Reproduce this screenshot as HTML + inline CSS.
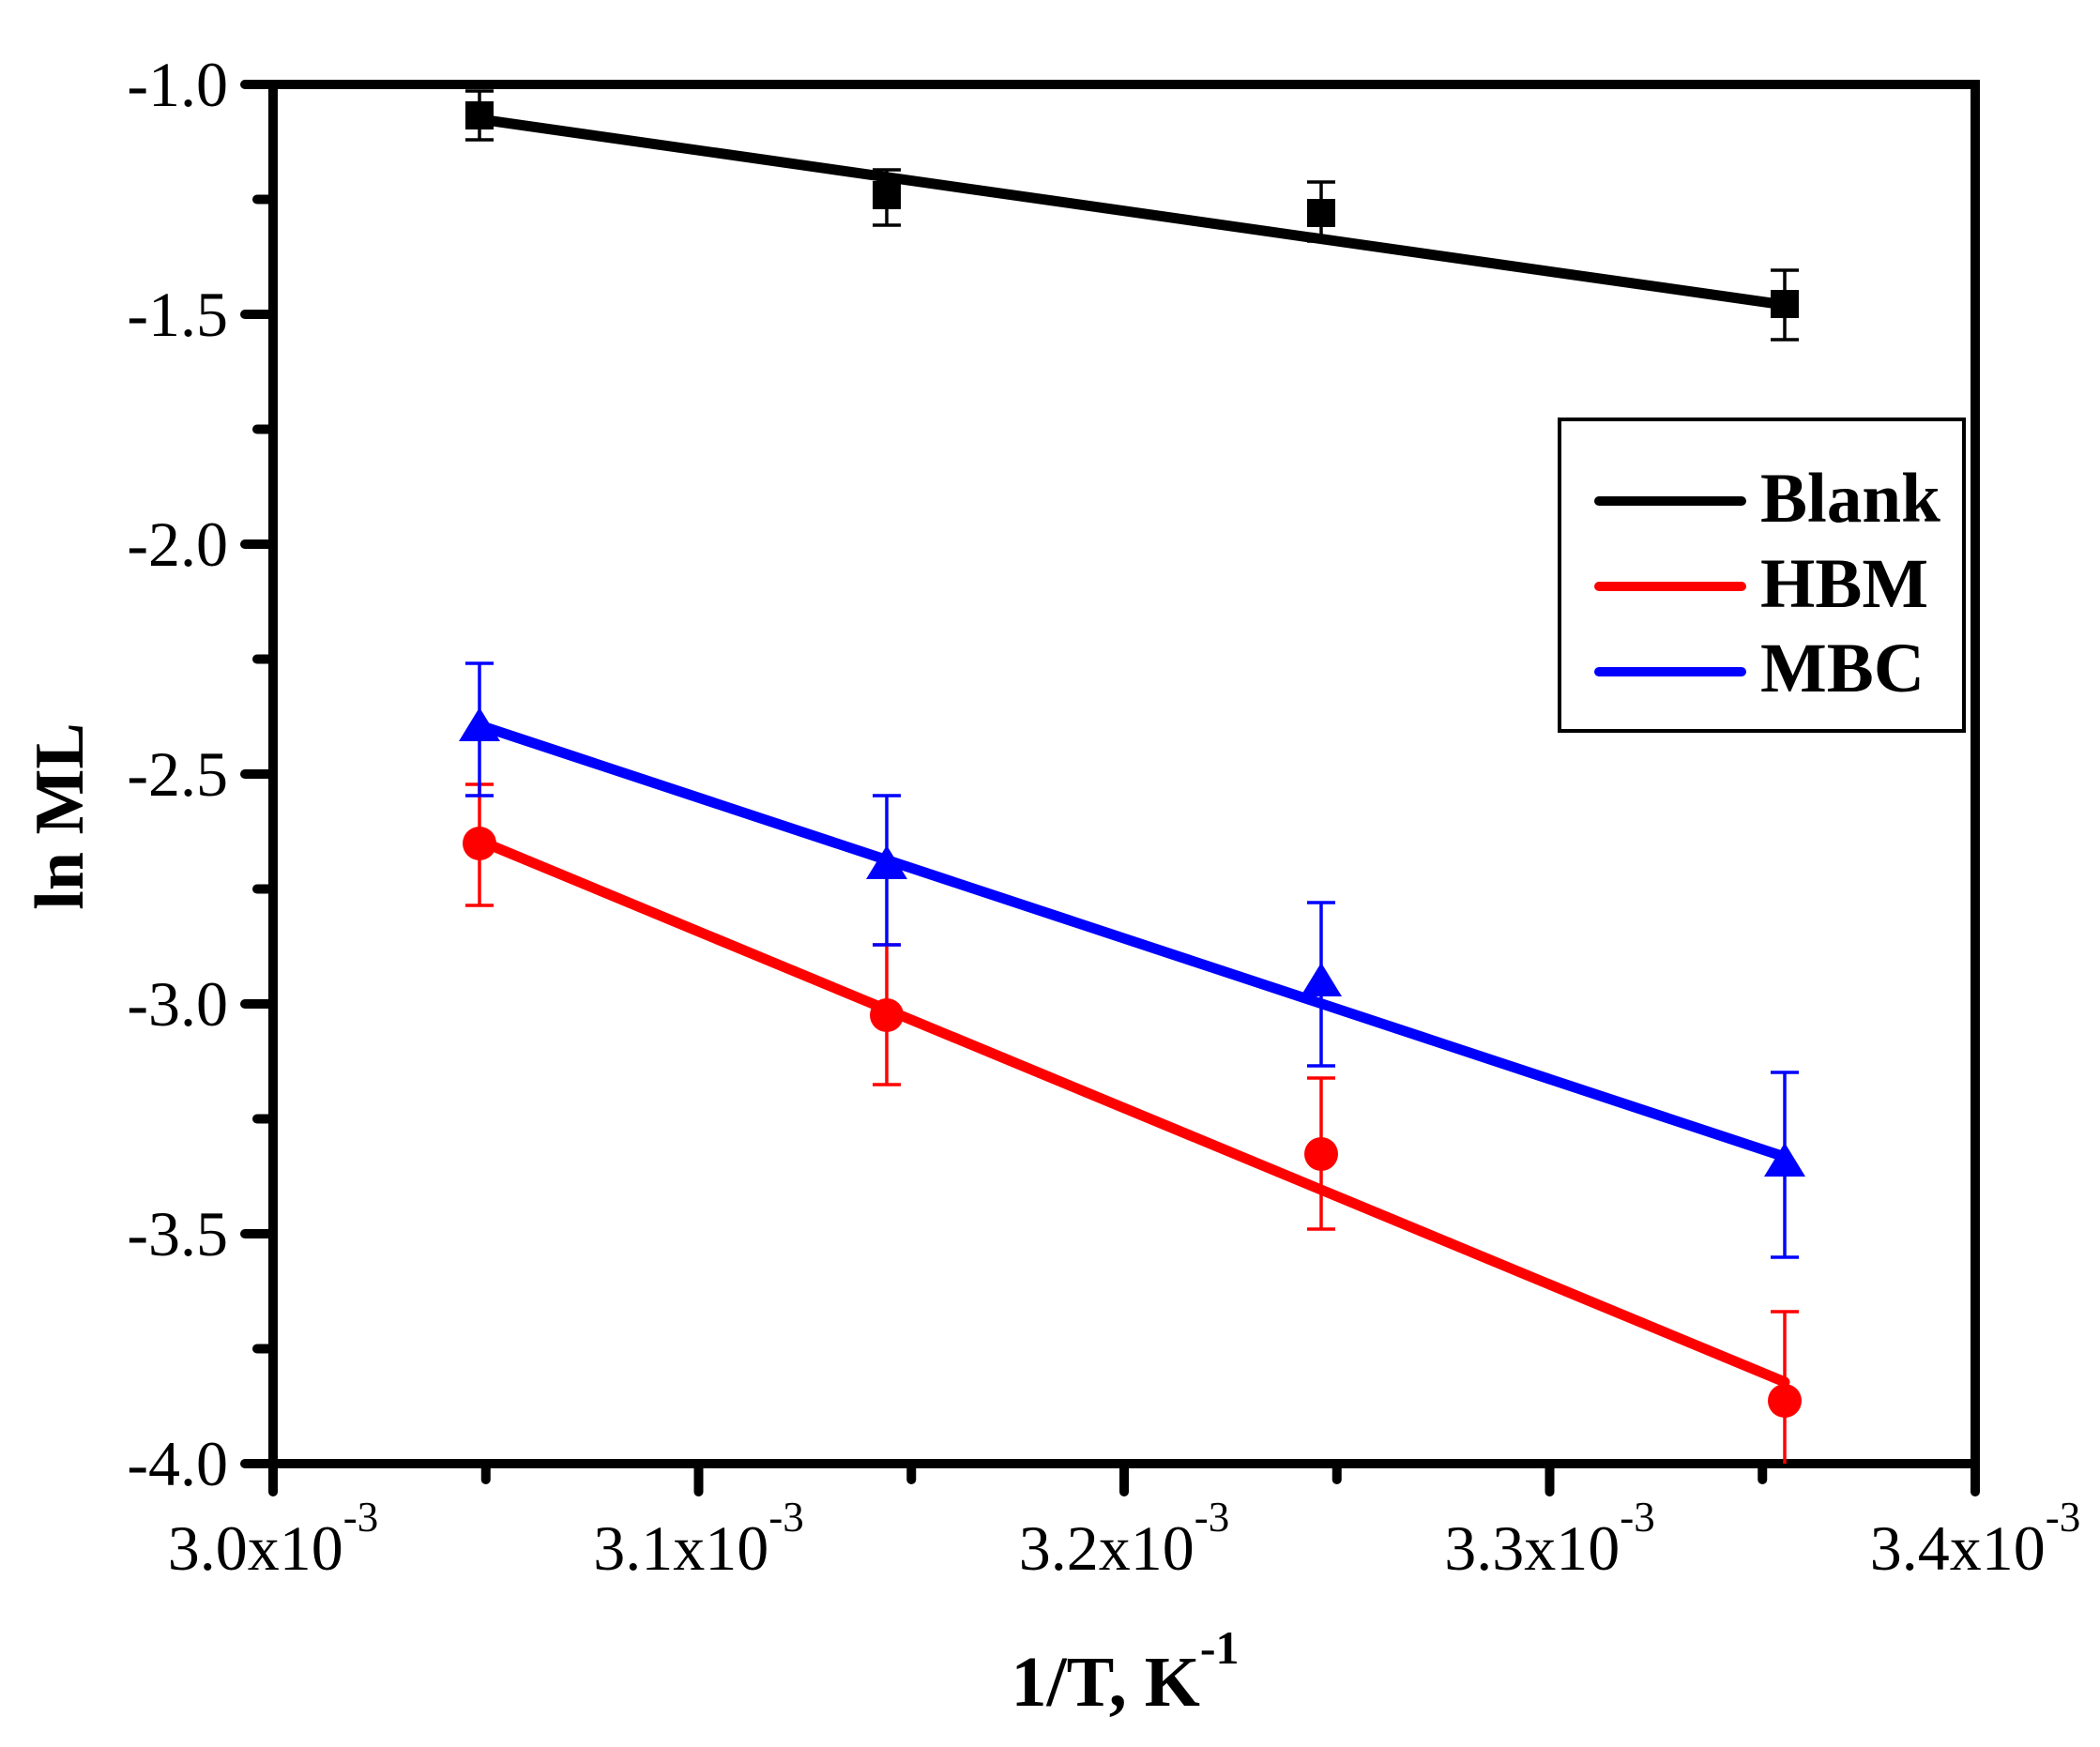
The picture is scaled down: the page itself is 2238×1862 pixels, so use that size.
<!DOCTYPE html>
<html><head><meta charset="utf-8"><style>html,body{margin:0;padding:0;background:#fff}svg{display:block}</style></head>
<body>
<svg width="2238" height="1862" viewBox="0 0 2238 1862" xmlns="http://www.w3.org/2000/svg" font-family="Liberation Serif, serif">
<rect width="2238" height="1862" fill="#fff"/>
<!-- y ticks -->
<g stroke="#000" stroke-width="10" stroke-linecap="round">
<line x1="261" y1="90" x2="291" y2="90"/>
<line x1="261" y1="335" x2="291" y2="335"/>
<line x1="261" y1="580" x2="291" y2="580"/>
<line x1="261" y1="825" x2="291" y2="825"/>
<line x1="261" y1="1070" x2="291" y2="1070"/>
<line x1="261" y1="1315" x2="291" y2="1315"/>
<line x1="261" y1="1560" x2="291" y2="1560"/>
<line x1="274" y1="212.5" x2="291" y2="212.5"/>
<line x1="274" y1="457.5" x2="291" y2="457.5"/>
<line x1="274" y1="702.5" x2="291" y2="702.5"/>
<line x1="274" y1="947.5" x2="291" y2="947.5"/>
<line x1="274" y1="1192.5" x2="291" y2="1192.5"/>
<line x1="274" y1="1437.5" x2="291" y2="1437.5"/>
<!-- x ticks -->
<line x1="291" y1="1560" x2="291" y2="1590"/>
<line x1="744.5" y1="1560" x2="744.5" y2="1590"/>
<line x1="1198" y1="1560" x2="1198" y2="1590"/>
<line x1="1651.5" y1="1560" x2="1651.5" y2="1590"/>
<line x1="2105" y1="1560" x2="2105" y2="1590"/>
<line x1="517.75" y1="1560" x2="517.75" y2="1577"/>
<line x1="971.25" y1="1560" x2="971.25" y2="1577"/>
<line x1="1424.75" y1="1560" x2="1424.75" y2="1577"/>
<line x1="1878.25" y1="1560" x2="1878.25" y2="1577"/>
</g>
<rect x="291" y="90" width="1814" height="1470" fill="none" stroke="#000" stroke-width="10"/>
<!-- y labels -->
<g font-size="68" text-anchor="end" fill="#000">
<text x="243" y="113">-1.0</text>
<text x="243" y="358">-1.5</text>
<text x="243" y="603">-2.0</text>
<text x="243" y="848">-2.5</text>
<text x="243" y="1093">-3.0</text>
<text x="243" y="1338">-3.5</text>
<text x="243" y="1583">-4.0</text>
</g>
<!-- x labels -->
<g font-size="68" text-anchor="middle" fill="#000">
<text x="291" y="1673">3.0x10<tspan font-size="45" dy="-41">-3</tspan></text>
<text x="744.5" y="1673">3.1x10<tspan font-size="45" dy="-41">-3</tspan></text>
<text x="1198" y="1673">3.2x10<tspan font-size="45" dy="-41">-3</tspan></text>
<text x="1651.5" y="1673">3.3x10<tspan font-size="45" dy="-41">-3</tspan></text>
<text x="2105" y="1673">3.4x10<tspan font-size="45" dy="-41">-3</tspan></text>
</g>
<text x="1199" y="1818" font-size="76" font-weight="bold" text-anchor="middle">1/T, K<tspan font-size="50" dy="-45">-1</tspan></text>
<text transform="translate(88,870) rotate(-90)" font-size="74" font-weight="bold" text-anchor="middle">ln ML</text>
<!-- fit lines -->
<g stroke-width="11" stroke-linecap="round">
<line x1="511" y1="127" x2="1902" y2="325" stroke="#000"/>
<line x1="511" y1="896" x2="1902" y2="1473" stroke="#f00"/>
<line x1="511" y1="773" x2="1902" y2="1233" stroke="#00f"/>
</g>
<!-- error bars -->
<g stroke="#000" stroke-width="3.5">
<path d="M511 97V149M496 97H526M496 149H526"/>
<path d="M945 181V240M930 181H960M930 240H960"/>
<path d="M1408 194V257M1393 194H1423M1393 257H1423"/>
<path d="M1902 288V362M1887 288H1917M1887 362H1917"/>
</g>
<g stroke="#f00" stroke-width="3.5">
<path d="M511 836V965M496 836H526M496 965H526"/>
<path d="M945 1007V1156M930 1007H960M930 1156H960"/>
<path d="M1408 1149V1310M1393 1149H1423M1393 1310H1423"/>
<path d="M1902 1398V1560M1887 1398H1917"/>
</g>
<g stroke="#00f" stroke-width="3.5">
<path d="M511 707V848M496 707H526M496 848H526"/>
<path d="M945 848V1007M930 848H960M930 1007H960"/>
<path d="M1408 962V1136M1393 962H1423M1393 1136H1423"/>
<path d="M1902 1143V1340M1887 1143H1917M1887 1340H1917"/>
</g>
<!-- markers -->
<g fill="#000">
<rect x="496" y="108" width="30" height="30"/>
<rect x="930" y="193" width="30" height="30"/>
<rect x="1393" y="212" width="30" height="30"/>
<rect x="1887" y="309" width="30" height="30"/>
</g>
<g fill="#f00">
<circle cx="511" cy="899" r="18"/>
<circle cx="945" cy="1082" r="18"/>
<circle cx="1408" cy="1230" r="18"/>
<circle cx="1902" cy="1493" r="18"/>
</g>
<g fill="#00f">
<polygon points="511,754 489,790 533,790"/>
<polygon points="945,901 923,937 967,937"/>
<polygon points="1408,1026 1386,1062 1430,1062"/>
<polygon points="1902,1218 1880,1254 1924,1254"/>
</g>
<!-- legend -->
<rect x="1662" y="447" width="431" height="332" fill="#fff" stroke="#000" stroke-width="4"/>
<g stroke-width="10" stroke-linecap="round">
<line x1="1704" y1="534" x2="1856" y2="534" stroke="#000"/>
<line x1="1704" y1="625" x2="1856" y2="625" stroke="#f00"/>
<line x1="1704" y1="716" x2="1856" y2="716" stroke="#00f"/>
</g>
<g font-size="75" font-weight="bold" fill="#000">
<text x="1876" y="556">Blank</text>
<text x="1876" y="647">HBM</text>
<text x="1876" y="737">MBC</text>
</g>
</svg>
</body></html>
